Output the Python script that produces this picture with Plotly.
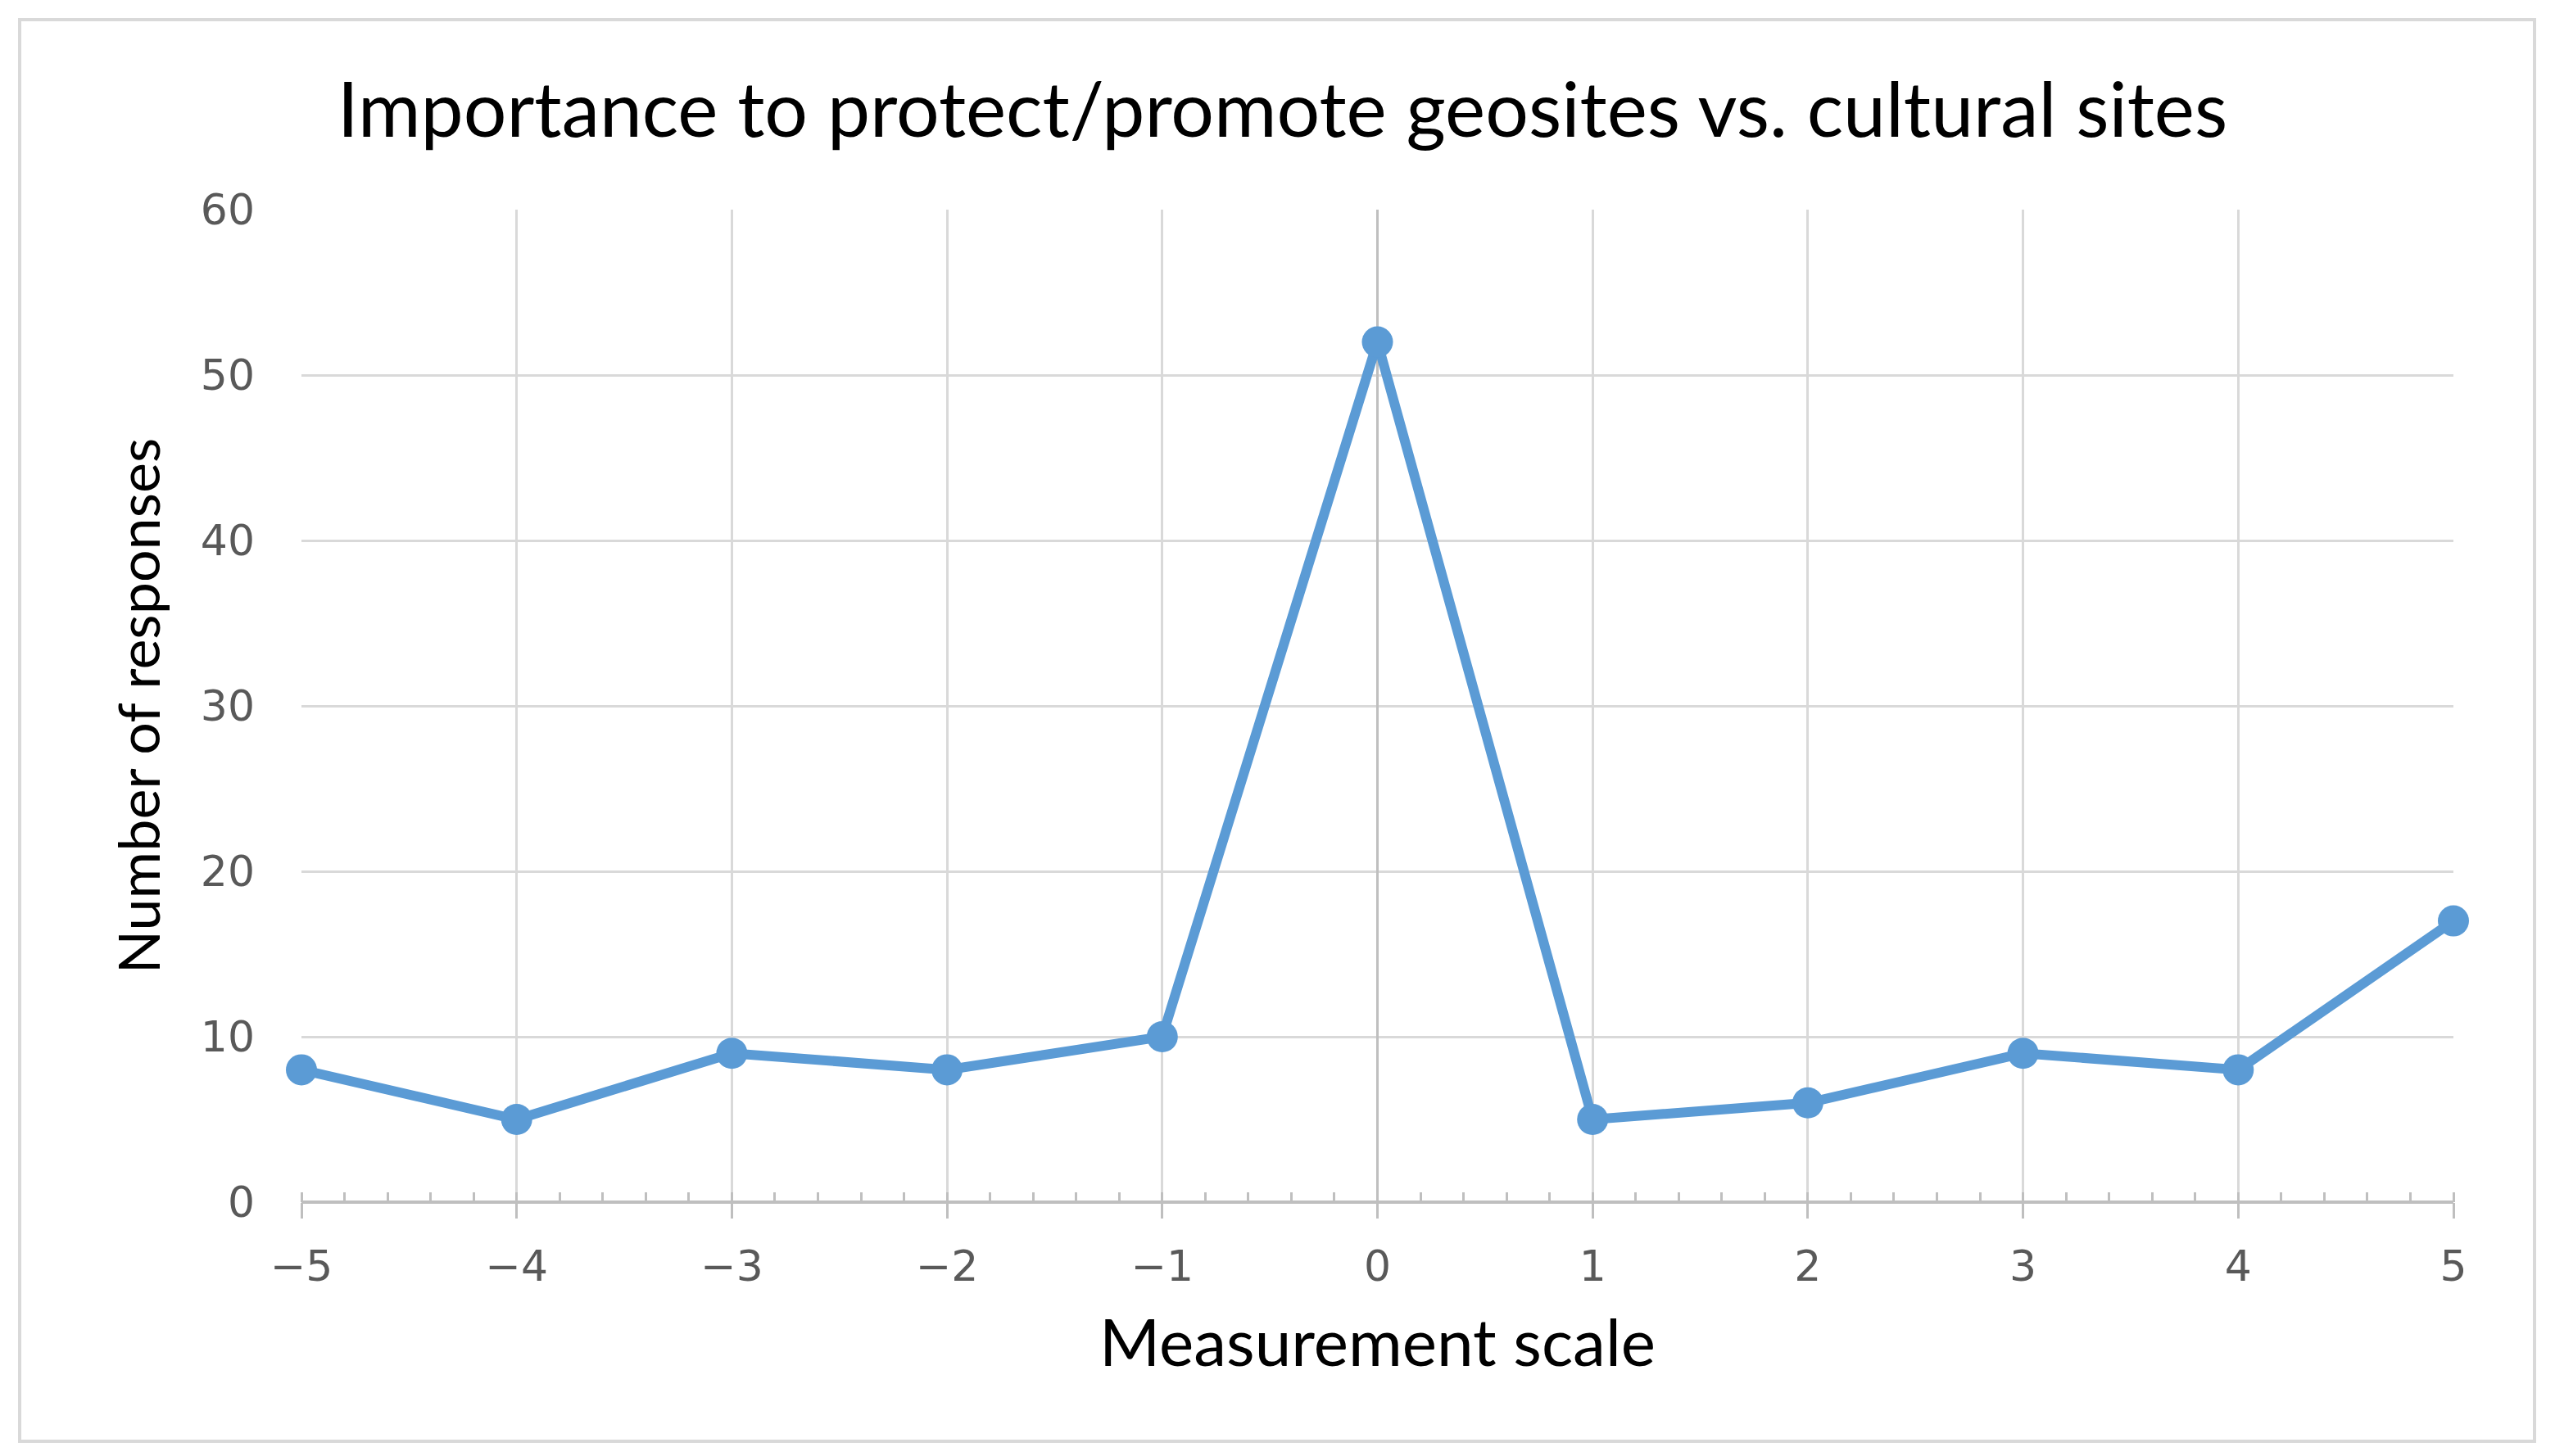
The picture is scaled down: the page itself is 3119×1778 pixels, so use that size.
import plotly.graph_objects as go

scale = [-5, -4, -3, -2, -1, 0, 1, 2, 3, 4, 5]
responses = [8, 5, 9, 8, 10, 52, 5, 6, 9, 8, 17]
y_ticks = [0, 10, 20, 30, 40, 50, 60]
x_ticks = [-5, -4, -3, -2, -1, 0, 1, 2, 3, 4, 5]
x_tick_text = ["\u22125", "\u22124", "\u22123", "\u22122", "\u22121", "0", "1", "2", "3", "4", "5"]

W, H = 3119, 1778
OFF = 8  # page body margin offset
ML, MR, MT, MB = 368 - OFF, 124 + OFF, 256 - OFF, 310 + OFF
PW, PH = W - ML - MR, H - MT - MB

BLUE = "#5b9bd5"
GRID = "#d9d9d9"
AXIS = "#bfbfbf"
TICKC = "#595959"
FONT = "Lato, 'Open Sans', sans-serif"

fig = go.Figure()
fig.add_trace(go.Scatter(
    x=scale, y=responses, mode="lines+markers",
    line=dict(color=BLUE, width=12),
    marker=dict(color=BLUE, size=38),
    showlegend=False, cliponaxis=False,
))
# invisible trace for the overlay axis (crossing major ticks above axis line)
fig.add_trace(go.Scatter(x=[scale[0], scale[-1]], y=[0, 0], xaxis="x2", mode="lines",
                         line=dict(width=0), showlegend=False, hoverinfo="skip"))

fig.update_layout(
    width=W, height=H,
    margin=dict(l=ML, r=MR, t=MT, b=MB),
    paper_bgcolor="white", plot_bgcolor="white",
    title=dict(text="Importance to protect/promote geosites vs. cultural sites",
               x=(404 + 2711) / 2 / W, xanchor="center", y=1 - 126 / H, yanchor="middle",
               font=dict(family=FONT, size=93, color="black")),
    xaxis=dict(
        range=[-5, 5], tickvals=x_ticks, ticktext=x_tick_text,
        showgrid=True, gridcolor=GRID, gridwidth=3,
        zeroline=True, zerolinecolor=AXIS, zerolinewidth=3,
        showline=False,
        ticks="outside", ticklen=19, tickwidth=3, tickcolor=AXIS,
        ticklabelstandoff=14,
        minor=dict(dtick=0.2, ticks="inside", ticklen=12, tickwidth=3, tickcolor=AXIS, showgrid=False),
        tickfont=dict(family="DejaVu Sans", size=52, color=TICKC),
        title=dict(text="Measurement scale", font=dict(family=FONT, size=80, color="black"), standoff=36),
    ),
    xaxis2=dict(
        overlaying="x", range=[-5, 5], tickvals=x_ticks, showticklabels=False,
        showgrid=False, zeroline=False, showline=False, side="bottom",
        ticks="inside", ticklen=12, tickwidth=3, tickcolor=AXIS,
    ),
    yaxis=dict(
        range=[0, 60], tickvals=y_ticks,
        showgrid=True, gridcolor=GRID, gridwidth=3,
        zeroline=True, zerolinecolor=AXIS, zerolinewidth=4,
        showline=False, ticks="",
        ticklabelstandoff=56,
        tickfont=dict(family="DejaVu Sans", size=52, color=TICKC),
        title=dict(text="Number of responses", font=dict(family=FONT, size=70, color="black"), standoff=26),
    ),
)

# outer chart border (page coords 24..3094 x 24..1760, shifted by body offset)
fig.add_shape(type="rect", xref="paper", yref="paper",
              x0=(24 - OFF - ML) / PW, x1=(3094 - OFF - ML) / PW,
              y0=(H - MB - (1760 - OFF)) / PH, y1=(H - MB - (24 - OFF)) / PH,
              line=dict(color="#d9d9d9", width=4), fillcolor="rgba(0,0,0,0)", layer="below")

fig.write_html("out.html")
